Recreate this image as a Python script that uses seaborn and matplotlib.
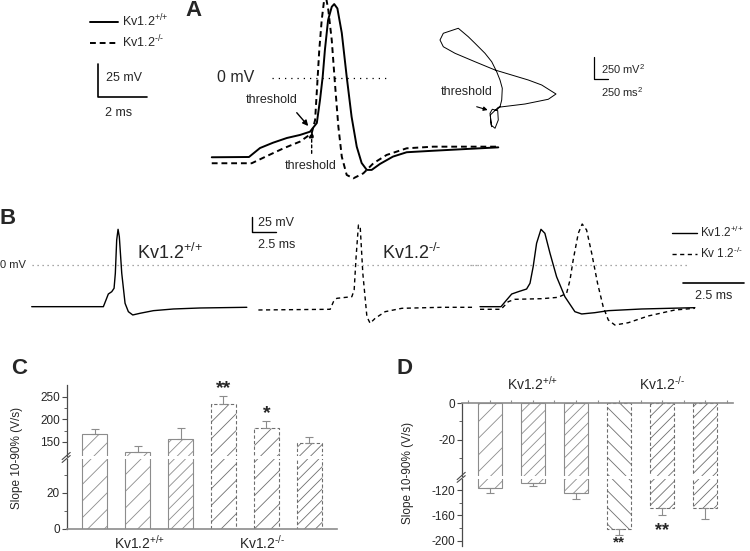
import matplotlib
matplotlib.use("Agg")
import matplotlib.pyplot as plt
import seaborn as sns

# ---- panel A: single APs (ms, mV) ----
a_wt_t = [0, 1.52, 1.97, 2.50, 3.07, 3.60, 4.01, 4.29, 4.42, 4.53, 4.62, 4.75, 4.90, 5.00,
          5.13, 5.31, 5.51, 5.71, 5.92, 6.12, 6.33, 6.53, 6.87, 7.40, 7.96, 9.04, 10.41, 11.70]
a_wt_v = [-58.3, -58.1, -51.5, -47.6, -44.1, -41.9, -39.5, -33.1, -16.2, 1.0, 20.6, 42.6, 52.4, 54.4,
          51.2, 33.1, 1.0, -28.5, -50.5, -62.5, -67.6, -67.6, -63.2, -57.8, -54.6, -53.5, -52.2, -51.0]
a_ko_t = [0, 1.63, 2.25, 2.93, 3.60, 4.08, 4.22, 4.31, 4.39, 4.49, 4.58, 4.66, 4.76, 4.90, 5.03,
          5.17, 5.31, 5.51, 5.78, 6.19, 6.60, 7.14, 7.96, 9.04, 10.41, 11.70]
a_ko_v = [-62.7, -62.7, -57.4, -51.7, -46.8, -40.7, -30.9, -3.9, 20.6, 42.6, 56.1, 60.0, 50.0, 27.9, -3.9,
          -35.8, -57.9, -71.3, -73.8, -70.1, -62.7, -56.6, -51.7, -50.5, -50.5, -50.5]

# phase plot (arbitrary units, scale bar = 250)
ph_x = [30, 0, 40, 135, 145, 88, 18, 5, 145, 613, 1020, 1155, 905, 670, 88, -263, -613, -817,
        -875, -817, -555, -380, -263, -88, 30, 117, 175, 215, 205, 175, 117]
ph_y = [3, 151, 195, 179, 77, -14, 22, 132, 217, 253, 305, 363, 462, 517, 627, 718, 811, 883,
        957, 1031, 1086, 993, 921, 811, 718, 608, 517, 426, 297, 223, 187]

# ---- panel B: traces (ms, mV) ----
b_wt_t = [0, 7.37, 7.64, 7.88, 8.23, 8.47, 8.60, 8.74, 8.88, 9.01, 9.26, 9.60, 9.94, 10.39,
          11.14, 12.51, 14.57, 17.31, 22.12]
b_wt_v = [-66.8, -66.8, -56.1, -46.5, -42.8, -37.3, -13.3, 40.1, 57.2, 45.4, -13.3, -61.4, -74.8, -80.1,
          -77.4, -73.2, -70.5, -68.9, -67.8]
b_ko_t = [23.31, 30.69, 31.03, 31.38, 32.92, 33.16, 33.36, 33.60, 33.78, 34.05, 34.47, 34.80,
          35.32, 36.35, 38.07, 42.18, 45.61]
b_ko_v = [-72.1, -71.0, -58.8, -53.4, -50.8, -40.1, 13.3, 64.1, 61.4, -13.3, -82.9, -93.4,
          -85.4, -74.8, -69.4, -67.8, -67.8]
ov_wt_t = [0, 0.86, 1.09, 1.30, 1.57, 1.91, 2.05, 2.18, 2.32, 2.50, 2.66, 2.87, 3.14, 3.48,
           3.89, 4.17, 4.71, 5.26, 6.63, 8.81]
ov_wt_v = [-66.8, -66.8, -56.1, -46.5, -42.8, -38.5, -29.3, -2.7, 34.8, 57.2, 50.8, 18.8, -18.8, -50.8,
           -74.8, -78.5, -76.4, -73.2, -70.5, -68.4]
ov_ko_t = [0, 0.86, 1.16, 1.43, 2.53, 3.21, 3.55, 3.69, 3.82, 4.03, 4.19, 4.37, 4.58, 4.82,
           5.05, 5.26, 5.53, 6.08, 6.90, 7.99, 8.81]
ov_ko_v = [-71.0, -71.0, -58.8, -55.0, -54.0, -51.8, -45.4, -24.0, 8.0, 50.8, 65.7, 56.1, 18.8, -29.3,
           -66.8, -88.1, -96.2, -92.5, -81.7, -72.1, -69.4]

# ---- panels C, D: slopes (V/s) ----
bar_ids = ["wt1", "wt2", "wt3", "ko1", "ko2", "ko3"]
c_mean = [167, 127, 156, 235, 180, 147]
c_sem = [11, 14, 24, 16, 17, 15]
d_mean = [-117, -109, -125, -181, -149, -149]
d_sem = [7, 5, 9, 10, 11, 16]
c_hatch = ["//", "//", "///", "//", "//", "///"]
d_hatch = ["//", "///", "///", "\\\\", "///", "///"]
wt_label = r"Kv1.2$^{\text{+/+}}$"
ko_label = r"Kv1.2$^{\text{-/-}}$"
ko_label_b = r"Kv 1.2$^{\text{-/-}}$"

sns.set_style("white")
plt.rcParams["font.family"] = ["Liberation Sans", "DejaVu Sans"]
plt.rcParams["mathtext.fontset"] = "custom"
plt.rcParams["mathtext.rm"] = "Liberation Sans"
plt.rcParams["mathtext.it"] = "Liberation Sans:italic"
plt.rcParams["axes.unicode_minus"] = False
plt.rcParams["hatch.linewidth"] = 0.6
plt.rcParams["hatch.color"] = "#8c8c8c"

W, H = 750, 551
fig = plt.figure(figsize=(7.5, 5.51), dpi=100)


def px_axes(x0, y0, x1, y1):
    ax = fig.add_axes([x0 / W, 1 - y1 / H, (x1 - x0) / W, (y1 - y0) / H])
    ax.patch.set_alpha(0)
    return ax


# ================= A =================
axA = px_axes(80, 0, 620, 185)
sns.lineplot(x=a_wt_t, y=a_wt_v, ax=axA, color="k", lw=1.4, sort=False, estimator=None,
             label=wt_label)
sns.lineplot(x=a_ko_t, y=a_ko_v, ax=axA, color="k", lw=1.4, sort=False, estimator=None,
             linestyle="--", label=ko_label)
axA.lines[-1].set_dashes((3, 2))
axA.set_xlim(-5.38, 16.67)
axA.set_ylim(-78.7, 57.4)
axA.axis("off")
axA.legend(loc="upper left", bbox_to_anchor=(90 / W, 1 - 13 / H), bbox_transform=fig.transFigure,
           frameon=False, fontsize=9, handlelength=2.2, handletextpad=0.4, labelspacing=0.35,
           borderpad=0, borderaxespad=0)
axA.plot([2.45, 7.14], [0, 0], color="k", lw=0.9, ls=(0, (1, 4)))
axA.text(0.2, 0.3, "0 mV", fontsize=11.5, va="center", ha="left")
axA.plot([-4.63, -4.63, -2.65], [10.1, -14.2, -14.2], color="k", lw=1.2)
axA.text(-4.31, 0.2, "25 mV", fontsize=9, va="center", ha="left")
axA.text(-3.81, -25.5, "2 ms", fontsize=9, va="center", ha="center")
axA.text(2.45, -16.2, "threshold", fontsize=9, va="center", ha="center")
axA.annotate("", xy=(3.94, -35.3), xytext=(3.47, -25.5),
             arrowprops=dict(arrowstyle="-|>", color="k", lw=1, mutation_scale=8, shrinkA=0, shrinkB=0))
axA.text(4.05, -64.5, "threshold", fontsize=9, va="center", ha="center")
axA.annotate("", xy=(4.08, -39.5), xytext=(4.08, -55.4),
             arrowprops=dict(arrowstyle="-|>", color="k", lw=1, ls=(0, (2, 2)), mutation_scale=8,
                             shrinkA=0, shrinkB=0))
fig.text(194 / W, 1 - 11 / H, "A", fontsize=16, fontweight="bold", ha="center", va="center")

axP = px_axes(430, 20, 640, 135)
sns.lineplot(x=ph_x, y=ph_y, ax=axP, color="k", lw=0.7, sort=False, estimator=None)
axP.set_xlim(-1050, 2625)
axP.set_ylim(-88, 1177)
axP.axis("off")
axP.text(-408, 382, "threshold", fontsize=9, va="center", ha="center")
axP.annotate("", xy=(-40, 187), xytext=(-233, 223),
             arrowprops=dict(arrowstyle="-|>", color="k", lw=0.8, mutation_scale=6, shrinkA=0, shrinkB=0))
axP.plot([1820, 1820, 2070], [773, 525, 525], color="k", lw=0.9)
axP.text(1943, 640, "250 mV$^2$", fontsize=8, va="center", ha="left")
axP.text(1943, 388, "250 ms$^2$", fontsize=8, va="center", ha="left")

# ================= B =================
axB = px_axes(0, 195, 480, 335)
sns.lineplot(x=b_wt_t, y=b_wt_v, ax=axB, color="k", lw=1.0, sort=False, estimator=None)
sns.lineplot(x=b_ko_t, y=b_ko_v, ax=axB, color="k", lw=1.0, sort=False, estimator=None, linestyle="--")
axB.lines[-1].set_dashes((3, 2.5))
axB.set_xlim(-3.26, 46.1)
axB.set_ylim(-112.2, 112.2)
axB.axis("off")
axB.axhline(0, xmin=0.067, xmax=1, color="#8a8a8a", lw=0.9, ls=(0, (1, 3)))
axB.text(-3.26, 0, "0 mV", fontsize=8, va="center", ha="left")
axB.plot([22.63, 22.63, 25.13], [77.4, 52.4, 52.4], color="k", lw=1)
axB.text(23.3, 66.8, "25 mV", fontsize=9, va="center", ha="left")
axB.text(25.2, 32, "2.5 ms", fontsize=9, va="center", ha="center")
axB.text(10.8, 18.7, wt_label, fontsize=13, va="center", ha="left")
axB.text(36.0, 18.7, ko_label, fontsize=13, va="center", ha="left")
fig.text(8 / W, 1 - 219 / H, "B", fontsize=16, fontweight="bold", ha="center", va="center")

axO = px_axes(470, 195, 750, 335)
sns.lineplot(x=ov_wt_t, y=ov_wt_v, ax=axO, color="k", lw=1.0, sort=False, estimator=None,
             label=wt_label)
sns.lineplot(x=ov_ko_t, y=ov_ko_v, ax=axO, color="k", lw=1.0, sort=False, estimator=None,
             linestyle="--", label=ko_label_b)
axO.lines[-1].set_dashes((3, 2.5))
axO.set_xlim(-0.41, 11.07)
axO.set_ylim(-112.2, 112.2)
axO.axis("off")
axO.axhline(0, xmin=0, xmax=0.785, color="#8a8a8a", lw=0.9, ls=(0, (1, 3)))
axO.plot([8.33, 10.83], [-29.3, -29.3], color="k", lw=1.2)
axO.text(9.58, -49.7, "2.5 ms", fontsize=9, va="center", ha="center")
axO.legend(loc="upper left", bbox_to_anchor=(672 / W, 1 - 225 / H), bbox_transform=fig.transFigure,
           frameon=False, fontsize=8.5, handlelength=2.1, handletextpad=0.3, labelspacing=0.45,
           borderpad=0, borderaxespad=0)

# ================= C, D =================
EDGE = "#8c8c8c"
SPINE = "#4a4a4a"


def draw_bars(ax, vals, hatches):
    sns.barplot(x=bar_ids, y=vals, ax=ax, color="white", edgecolor=EDGE, linewidth=0.8,
                width=0.56, errorbar=None)
    for i, bar in enumerate(ax.patches):
        bar.set_hatch(hatches[i])
        if i >= 3:
            bar.set_linestyle((0, (3, 2)))
            bar.set_edgecolor("#6e6e6e")
    ax.set_xlim(-0.64, 5.64)
    ax.set_xlabel("")
    ax.set_ylabel("")
    ax.set_xticks([])
    for s in ["top", "right", "bottom", "left"]:
        ax.spines[s].set_visible(False)
    ax.spines["left"].set_visible(True)
    ax.spines["left"].set_color(SPINE)
    ax.spines["left"].set_linewidth(0.9)
    ax.tick_params(axis="y", which="both", direction="out", left=True, labelsize=8.5,
                   color=SPINE, pad=1.5)
    ax.tick_params(axis="y", which="major", length=3.5)
    ax.tick_params(axis="y", which="minor", length=2)


def break_marks(ax, where):
    y = 0 if where == "bottom" else 1
    ax.plot([-0.018, 0.012], [y - 0.05, y + 0.05], transform=ax.transAxes, clip_on=False,
            color=SPINE, lw=0.8)


# C
axC_hi = px_axes(67, 385, 337, 456)
axC_lo = px_axes(67, 459, 337, 528.7)
draw_bars(axC_hi, c_mean, c_hatch)
draw_bars(axC_lo, c_mean, c_hatch)
axC_hi.set_ylim(119, 276)
axC_lo.set_ylim(0, 38.7)
axC_hi.set_yticks([150, 200, 250])
axC_hi.set_yticks([175, 225], minor=True)
axC_lo.set_yticks([0, 20])
axC_lo.set_yticks([10, 30], minor=True)
axC_lo.spines["bottom"].set_visible(True)
axC_lo.spines["bottom"].set_color("#8c8c8c")
axC_lo.spines["bottom"].set_linewidth(1.2)
axC_hi.errorbar(range(6), c_mean, yerr=[[0] * 6, c_sem], fmt="none", ecolor="#8c8c8c",
                elinewidth=0.8, capsize=3, capthick=0.8)
break_marks(axC_hi, "bottom")
break_marks(axC_lo, "top")
axC_hi.text(3, 269, "**", fontsize=14, fontweight="bold", ha="center", va="center")
axC_hi.text(4, 213, "*", fontsize=14, fontweight="bold", ha="center", va="center")
axC_lo.text(1.05, -0.2, wt_label, transform=axC_lo.get_xaxis_transform(),
            fontsize=10, ha="center", va="center")
axC_lo.text(3.9, -0.2, ko_label, transform=axC_lo.get_xaxis_transform(),
            fontsize=10, ha="center", va="center")
fig.text(17 / W, 1 - 458 / H, "Slope 10-90% (V/s)", rotation=90, fontsize=8.5,
         ha="center", va="center")
fig.text(19 / W, 1 - 368 / H, "C", fontsize=16, fontweight="bold", ha="center", va="center")

# D
axD_hi = px_axes(462, 403, 733, 476)
axD_lo = px_axes(462, 479, 733, 546)
draw_bars(axD_hi, d_mean, d_hatch)
draw_bars(axD_lo, d_mean, d_hatch)
axD_hi.set_ylim(-39.5, 0)
axD_lo.set_ylim(-208.4, -102.6)
axD_hi.set_yticks([0, -20])
axD_hi.set_yticks([-10, -30], minor=True)
axD_lo.set_yticks([-120, -160, -200])
axD_lo.set_yticks([-140, -180], minor=True)
axD_hi.spines["top"].set_visible(True)
axD_hi.spines["top"].set_color("#8c8c8c")
axD_hi.spines["top"].set_linewidth(1.2)
axD_hi.set_xticks([-0.5, 0, 0.5, 1, 1.5, 2, 2.5, 3, 3.5, 4, 4.5, 5, 5.5])
axD_hi.tick_params(axis="x", top=True, bottom=False, labeltop=False, labelbottom=False,
                   direction="out", length=2.5, color="#8c8c8c")
axD_lo.errorbar(range(6), d_mean, yerr=[d_sem, [0] * 6], fmt="none", ecolor="#8c8c8c",
                elinewidth=0.8, capsize=3, capthick=0.8)
break_marks(axD_hi, "bottom")
break_marks(axD_lo, "top")
axD_lo.text(3, -203.6, "**", fontsize=11, fontweight="bold", ha="center", va="center")
axD_lo.text(4, -170, "**", fontsize=13, fontweight="bold", ha="center", va="top")
axD_hi.text(1, 1.27, wt_label, transform=axD_hi.get_xaxis_transform(),
            fontsize=10, ha="center", va="center")
axD_hi.text(4, 1.27, ko_label, transform=axD_hi.get_xaxis_transform(),
            fontsize=10, ha="center", va="center")
fig.text(408 / W, 1 - 473 / H, "Slope 10-90% (V/s)", rotation=90, fontsize=8.5,
         ha="center", va="center")
fig.text(405 / W, 1 - 368 / H, "D", fontsize=16, fontweight="bold", ha="center", va="center")

fig.savefig("out.png", dpi=100)
